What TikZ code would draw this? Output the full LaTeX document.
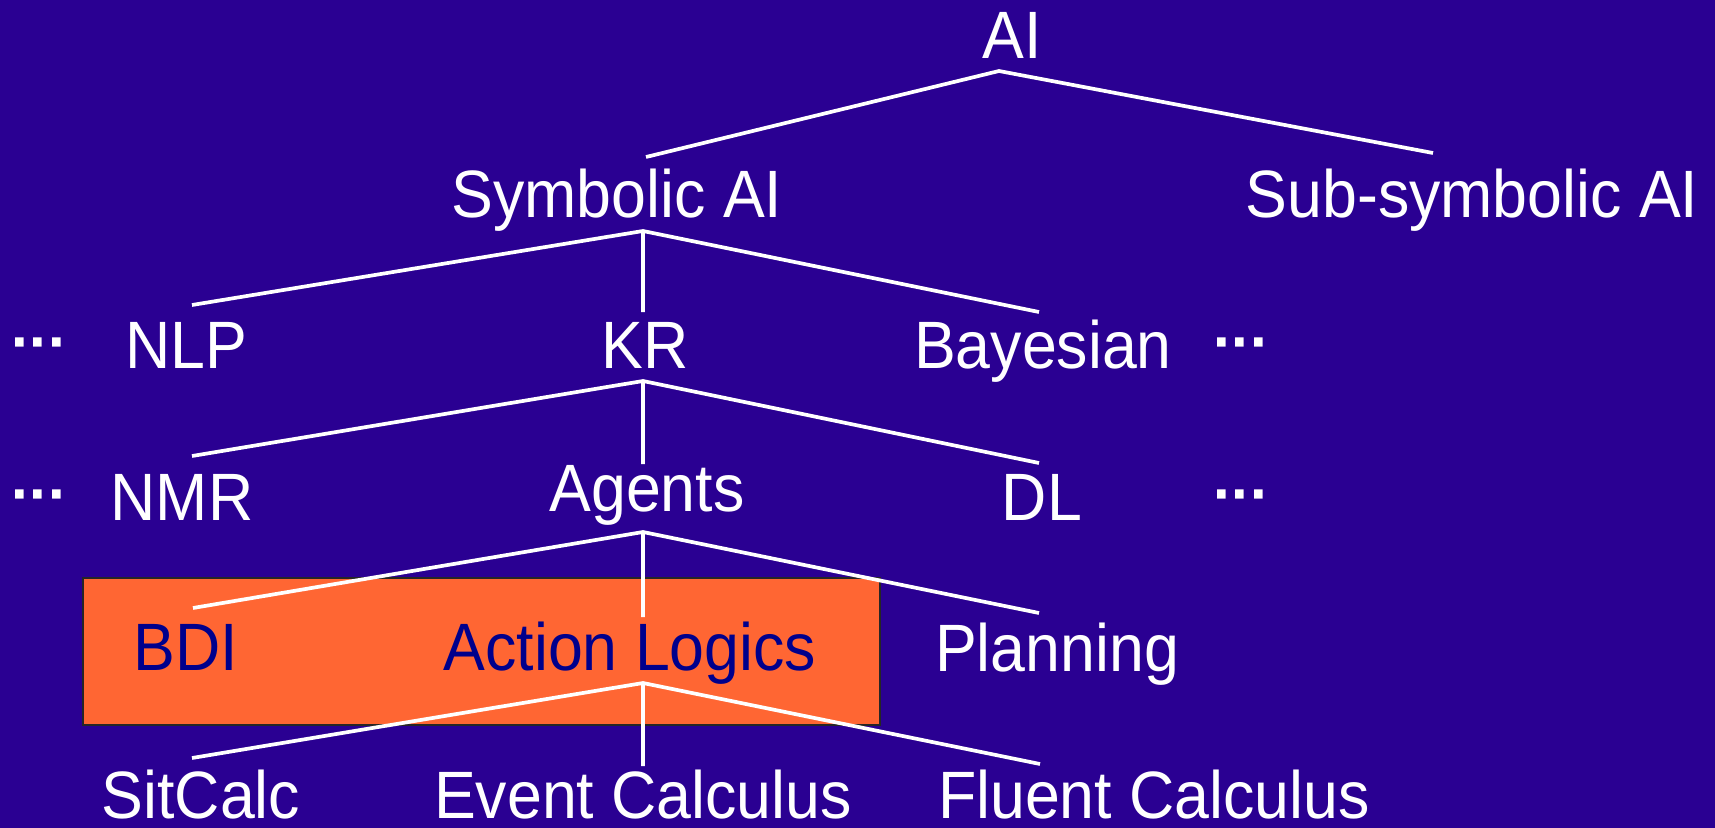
\documentclass[tikz,border=0pt]{standalone}
\usepackage{fontspec}
\setmainfont[FakeStretch=0.935]{Liberation Sans}
\newfontfamily\dotsfont{DejaVu Sans Bold}
\definecolor{slidebg}{RGB}{42,0,146}
\definecolor{boxorange}{RGB}{255,102,51}
\definecolor{boxtext}{RGB}{0,0,140}

\begin{document}
\begin{tikzpicture}[x=1pt,y=-1pt,
  every node/.style={inner sep=0pt,anchor=base,text=white,
    font=\fontsize{67}{80}\selectfont},
  focus/.style={text=boxtext},
  more/.style={anchor=north,font=\dotsfont\fontsize{49}{50}\selectfont},
  branch/.style={draw=white,line width=3.7pt}]
  \useasboundingbox (0,0) rectangle (1715,827);
  \fill[slidebg] (-6,-6) rectangle (1721,833);
  \filldraw[fill=boxorange,draw=black!85,line width=1.2pt] (83,578) rectangle (880,725);

  \coordinate (ai-fork) at (999,71);
  \coordinate (symb-tip) at (646,157);
  \coordinate (sub-tip) at (1433,153);
  \coordinate (symb-fork) at (643,231);
  \coordinate (nlp-tip) at (192,305);
  \coordinate (kr-tip) at (643,312);
  \coordinate (bayes-tip) at (1039,312);
  \coordinate (kr-fork) at (643,381);
  \coordinate (nmr-tip) at (192,456);
  \coordinate (agents-tip) at (643,464);
  \coordinate (dl-tip) at (1039,463);
  \coordinate (agents-fork) at (643,532);
  \coordinate (bdi-tip) at (193,608);
  \coordinate (actlog-tip) at (643,617);
  \coordinate (plan-tip) at (1039,613);
  \coordinate (actlog-fork) at (643,683);
  \coordinate (sit-tip) at (192,758);
  \coordinate (event-tip) at (643,766);
  \coordinate (fluent-tip) at (1040,764);

  \draw[branch] (symb-tip) -- (ai-fork) -- (sub-tip);
  \draw[branch] (nlp-tip) -- (symb-fork) -- (bayes-tip) (symb-fork) -- (kr-tip);
  \draw[branch] (nmr-tip) -- (kr-fork) -- (dl-tip) (kr-fork) -- (agents-tip);
  \draw[branch] (bdi-tip) -- (agents-fork) -- (plan-tip) (agents-fork) -- (actlog-tip);
  \draw[branch] (sit-tip) -- (actlog-fork) -- (fluent-tip) (actlog-fork) -- (event-tip);

  \node (ai) at (1012,58) {AI};
  \node (symb) at (617,217) {Symbolic AI};
  \node (sub) at (1472,217) {Sub-symbolic AI};
  \node[more] (more1l) at (38,338) {···};
  \node (nlp) at (186,368) {NLP};
  \node (kr) at (645,368) {KR};
  \node (bayes) at (1043,368) {Bayesian};
  \node[more] (more1r) at (1240,338) {···};
  \node[more] (more2l) at (38,490) {···};
  \node (nmr) at (182,520) {NMR};
  \node (agents) at (647,511) {Agents};
  \node (dl) at (1042,520) {DL};
  \node[more] (more2r) at (1240,490) {···};
  \node[focus] (bdi) at (186,670) {BDI};
  \node[focus] (actlog) at (630,670) {Action Logics};
  \node (plan) at (1057,671) {Planning};
  \node (sit) at (201,818) {SitCalc};
  \node (event) at (643,818) {Event Calculus};
  \node (fluent) at (1154,818) {Fluent Calculus};
\end{tikzpicture}
\end{document}
